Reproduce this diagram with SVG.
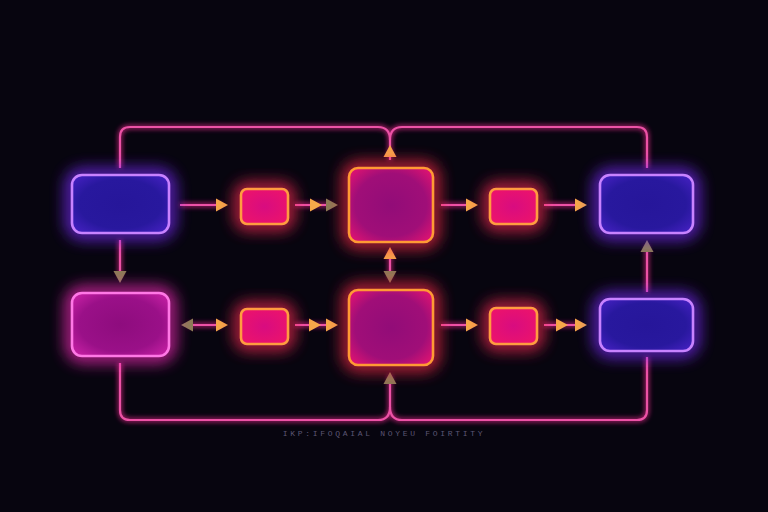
<svg xmlns="http://www.w3.org/2000/svg" xmlns:xlink="http://www.w3.org/1999/xlink" width="768" height="512" viewBox="0 0 768 512">
<defs>
<filter id="glow" x="-60%" y="-60%" width="220%" height="220%">
<feGaussianBlur stdDeviation="8"/>
</filter>
<filter id="lglow" x="-20%" y="-20%" width="140%" height="140%">
<feGaussianBlur stdDeviation="2.5"/>
</filter>
<radialGradient id="gBlue" cx="50%" cy="50%" r="71%">
<stop offset="0" stop-color="#26169a"/>
<stop offset="0.6" stop-color="#28189e"/>
<stop offset="1" stop-color="#4a22c8"/>
</radialGradient>
<radialGradient id="gPink" cx="50%" cy="50%" r="71%">
<stop offset="0" stop-color="#8e0c7e"/>
<stop offset="0.6" stop-color="#9a1088"/>
<stop offset="1" stop-color="#d024aa"/>
</radialGradient>
<radialGradient id="gBig" cx="50%" cy="50%" r="71%">
<stop offset="0" stop-color="#920c78"/>
<stop offset="0.6" stop-color="#a00e78"/>
<stop offset="1" stop-color="#ee1470"/>
</radialGradient>
<radialGradient id="gSmall" cx="50%" cy="50%" r="71%">
<stop offset="0" stop-color="#d80c80"/>
<stop offset="1" stop-color="#f01468"/>
</radialGradient>
<path id="ah" d="M0,0 L-12,-6.5 L-12,6.5 Z"/>
</defs>
<style>
.halo{fill:none;stroke-width:11;filter:url(#glow);opacity:0.95}
.body{stroke-width:2.6}
.blue .halo{stroke:#7a2cff}
.blue .body{fill:url(#gBlue);stroke:#c882ff}
.pink .halo{stroke:#ff2cc0}
.pink .body{fill:url(#gPink);stroke:#ff78e6}
.big .halo{stroke:#ff2a48}
.big .body{fill:url(#gBig);stroke:#ff9a34}
.small .halo{stroke:#ff2a55}
.small .body{fill:url(#gSmall);stroke:#ff9c40}
.ln{fill:none;stroke:#ec52a6;stroke-width:2.2}
.lg{fill:none;stroke:#ff2a9a;stroke-width:4;filter:url(#lglow);opacity:0.7}
.ao{fill:#f6a84a}
.ak{fill:#8c7c56}
.cap{font-family:"Liberation Mono",monospace;font-size:8px;letter-spacing:2.7px;fill:#5c5674}
</style>
<rect width="768" height="512" fill="#07050f"/>

<g id="connectors">
<g class="lg">
<path d="M120,168 V137 Q120,127 130,127 H378 Q390,127 390,140 V160"/>
<path d="M647,168 V137 Q647,127 637,127 H402 Q390,127 390,140"/>
<path d="M120,363 V410 Q120,420 130,420 H378 Q390,420 390,407 V375"/>
<path d="M647,357 V410 Q647,420 637,420 H402 Q390,420 390,407"/>
<path d="M120,240 V276"/>
<path d="M180,205 H222 M295,205 H332 M441,205 H472 M544,205 H580"/>
<path d="M188,325 H222 M295,325 H332 M441,325 H472 M544,325 H580"/>
<path d="M390,252 V278 M647,246 V292"/>
</g>
<g class="ln">
<path d="M120,168 V137 Q120,127 130,127 H378 Q390,127 390,140 V160"/>
<path d="M647,168 V137 Q647,127 637,127 H402 Q390,127 390,140"/>
<path d="M120,363 V410 Q120,420 130,420 H378 Q390,420 390,407 V375"/>
<path d="M647,357 V410 Q647,420 637,420 H402 Q390,420 390,407"/>
<path d="M120,240 V276"/>
<path d="M180,205 H222 M295,205 H332 M441,205 H472 M544,205 H580"/>
<path d="M188,325 H222 M295,325 H332 M441,325 H472 M544,325 H580"/>
<path d="M390,252 V278 M647,246 V292"/>
</g>
<use xlink:href="#ah" class="ao" transform="translate(390,145) rotate(-90)"/>
<use xlink:href="#ah" class="ak" transform="translate(120,283) rotate(90)"/>
<use xlink:href="#ah" class="ao" transform="translate(228,205)"/>
<use xlink:href="#ah" class="ao" transform="translate(322,205)"/>
<use xlink:href="#ah" class="ak" transform="translate(338,205)"/>
<use xlink:href="#ah" class="ao" transform="translate(478,205)"/>
<use xlink:href="#ah" class="ao" transform="translate(587,205)"/>
<use xlink:href="#ah" class="ao" transform="translate(390,247) rotate(-90)"/>
<use xlink:href="#ah" class="ak" transform="translate(390,283) rotate(90)"/>
<use xlink:href="#ah" class="ak" transform="translate(181,325) rotate(180)"/>
<use xlink:href="#ah" class="ao" transform="translate(228,325)"/>
<use xlink:href="#ah" class="ao" transform="translate(321,325)"/>
<use xlink:href="#ah" class="ao" transform="translate(338,325)"/>
<use xlink:href="#ah" class="ao" transform="translate(478,325)"/>
<use xlink:href="#ah" class="ao" transform="translate(568,325)"/>
<use xlink:href="#ah" class="ao" transform="translate(587,325)"/>
<use xlink:href="#ah" class="ak" transform="translate(647,240) rotate(-90)"/>
<use xlink:href="#ah" class="ak" transform="translate(390,372) rotate(-90)"/>
</g>

<g id="node-a" class="blue">
<rect class="halo" x="72" y="175" width="97" height="58" rx="10"/>
<rect class="body" x="72" y="175" width="97" height="58" rx="10"/>
</g>
<g id="node-b" class="small">
<rect class="halo" x="241" y="189" width="47" height="35" rx="6"/>
<rect class="body" x="241" y="189" width="47" height="35" rx="6"/>
</g>
<g id="node-c" class="big">
<rect class="halo" x="349" y="168" width="84" height="74" rx="9"/>
<rect class="body" x="349" y="168" width="84" height="74" rx="9"/>
</g>
<g id="node-d" class="small">
<rect class="halo" x="490" y="189" width="47" height="35" rx="6"/>
<rect class="body" x="490" y="189" width="47" height="35" rx="6"/>
</g>
<g id="node-e" class="blue">
<rect class="halo" x="600" y="175" width="93" height="58" rx="10"/>
<rect class="body" x="600" y="175" width="93" height="58" rx="10"/>
</g>
<g id="node-f" class="pink">
<rect class="halo" x="72" y="293" width="97" height="63" rx="10"/>
<rect class="body" x="72" y="293" width="97" height="63" rx="10"/>
</g>
<g id="node-g" class="small">
<rect class="halo" x="241" y="309" width="47" height="35" rx="6"/>
<rect class="body" x="241" y="309" width="47" height="35" rx="6"/>
</g>
<g id="node-h" class="big">
<rect class="halo" x="349" y="290" width="84" height="75" rx="9"/>
<rect class="body" x="349" y="290" width="84" height="75" rx="9"/>
</g>
<g id="node-i" class="small">
<rect class="halo" x="490" y="308" width="47" height="36" rx="6"/>
<rect class="body" x="490" y="308" width="47" height="36" rx="6"/>
</g>
<g id="node-j" class="blue">
<rect class="halo" x="600" y="299" width="93" height="52" rx="10"/>
<rect class="body" x="600" y="299" width="93" height="52" rx="10"/>
</g>

<text class="cap" x="384" y="436" text-anchor="middle">IKP:IFOQAIAL NOYEU FOIRTITY</text>
</svg>
